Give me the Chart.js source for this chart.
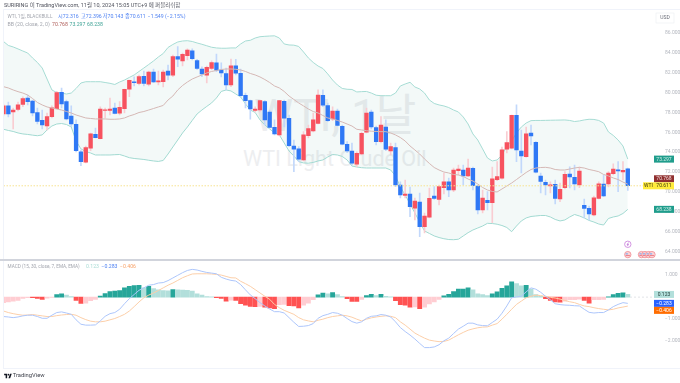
<!DOCTYPE html>
<html><head><meta charset="utf-8">
<script src="https://cdn.jsdelivr.net/npm/chart.js@4"></script>
<style>
html,body{margin:0;padding:0;background:#fff;width:680px;height:383px;overflow:hidden}
#wrap{position:relative;width:680px;height:383px;font-family:Roboto,"Noto Sans CJK KR",sans-serif}
canvas{position:absolute;left:0;top:0}
.t{position:absolute;white-space:nowrap;font-size:5.2px;line-height:7px;color:#a3a6ae}
.b{color:#4f82f2}
.wm{position:absolute;white-space:nowrap;color:#edeef0;font-family:Roboto,"Noto Sans CJK KR",sans-serif}
</style></head><body>
<div id="wrap">
<div class="wm" style="left:254px;top:88px;font-size:44px;line-height:56px">WTI, 1날</div>
<div class="wm" style="left:243px;top:147px;font-size:21.5px;line-height:24px">WTI Light Crude Oil</div>
<canvas id="c" width="680" height="383"></canvas>
<div class="t" style="left:4px;top:1.5px;color:#50535e;font-size:5.5px">SURIRING 이 TradingView.com, 11월 10, 2024 15:05 UTC+9 에 퍼블리쉬함</div>
<div class="t" style="left:7.5px;top:12.5px;font-size:4.7px">WTI, 1일, BLACKBULL</div>
<div class="t b" style="left:58px;top:12.5px">시72.316</div>
<div class="t b" style="left:81px;top:12.5px">고72.396</div>
<div class="t b" style="left:102.7px;top:12.5px">저70.143</div>
<div class="t b" style="left:125px;top:12.5px">종70.611</div>
<div class="t b" style="left:147.7px;top:12.5px">−1.549 (−2.15%)</div>
<div class="t" style="left:7.5px;top:20.5px">BB (20, close, 2, 0)</div>
<div class="t" style="left:52px;top:20.5px;color:#b0605c">70.768</div>
<div class="t" style="left:69.5px;top:20.5px;color:#3fa396">73.297</div>
<div class="t" style="left:87px;top:20.5px;color:#3fa396">68.238</div>
<div class="t" style="left:7.5px;top:262.5px;font-size:4.7px">MACD (15, 30, close, 7, EMA, EMA)</div>
<div class="t" style="left:86px;top:262.5px;color:#a9dcd5">0.123</div>
<div class="t b" style="left:101.5px;top:262.5px">−0.283</div>
<div class="t" style="left:120px;top:262.5px;color:#f7a167">−0.406</div>
<svg style="position:absolute;left:4px;top:372.5px" width="8" height="6" viewBox="0 0 36 28"><path fill="#131722" d="M14 24H7V11H0V4h14v20zM28 24h-8l7.5-20h8L28 24z"/><circle cx="20" cy="8" r="4" fill="#131722"/></svg>
<div class="t" style="left:12.7px;top:372px;color:#3f424c;font-size:5.8px">TradingView</div>
</div>
<script>
const tickIndex=[0,7,15,25,35,45,58,65,72,80,90,101,110,117,124];
const tickLabels=['3','22','6월','17','7월','15','8월','12','21','9월','16','10월','14','23','11월'];
const priceTicks=[64,66,68,70,72,74,76,78,80,82,84,86];
const macdTicks=[-2,-1,1];
const open=[77.84,78.65,78.04,78.29,78.80,79.45,79.15,77.99,77.19,76.63,
77.57,78.37,80.03,79.08,77.64,76.80,74.04,72.98,74.39,75.80,
75.35,78.19,78.19,78.44,77.91,78.37,80.33,81.09,80.93,81.64,
80.83,82.07,81.06,81.09,82.17,81.74,83.61,83.18,83.71,84.21,
83.21,82.37,81.74,82.44,82.98,82.27,81.92,80.76,82.70,81.94,
79.72,79.18,78.21,78.24,79.08,78.04,76.50,75.73,79.12,77.41,
74.62,74.32,73.21,75.65,76.13,76.90,79.72,78.68,77.34,78.14,
76.60,74.79,74.11,72.80,73.81,76.00,78.04,76.46,75.05,76.53,
74.11,74.47,70.69,69.65,69.78,68.37,68.98,66.49,67.44,69.58,
69.23,70.42,71.02,70.19,72.13,72.20,71.60,72.37,70.59,68.17,
69.15,68.91,71.22,71.37,74.29,74.39,77.71,74.11,73.54,75.93,
74.99,71.60,70.96,70.59,70.76,69.28,70.42,71.80,71.47,70.69,
68.65,68.34,67.67,69.35,70.79,70.79,71.83,72.23,72.00,72.316];
const high=[78.85,79.05,78.44,79.05,79.58,79.75,79.25,78.44,78.24,77.94,
78.65,80.11,80.46,79.25,78.65,77.24,74.22,74.62,75.93,76.43,
78.55,78.44,79.45,78.95,79.08,80.36,81.26,81.57,81.77,82.17,
82.17,82.37,82.17,82.27,82.77,83.78,84.62,83.98,84.39,84.39,
83.35,82.60,82.67,83.18,83.88,82.98,82.47,83.38,83.35,82.37,
79.95,79.25,78.55,79.25,79.18,78.24,77.24,79.22,79.25,77.74,
75.22,74.55,76.06,76.73,77.94,80.26,80.26,78.95,78.55,78.34,
76.73,75.05,74.92,74.04,76.03,78.44,78.24,76.63,77.57,77.24,
74.92,74.92,71.02,71.19,70.49,69.38,69.88,67.87,70.39,70.52,
70.69,71.90,71.39,72.40,72.70,72.70,73.31,72.50,70.69,70.19,
70.02,72.50,73.04,74.52,76.06,77.74,78.75,76.23,76.53,76.73,
75.05,71.90,71.19,71.02,71.19,70.89,72.03,72.53,72.70,72.50,
69.28,68.58,69.58,71.00,71.70,72.03,72.81,73.04,73.04,72.396];
const low=[77.64,77.54,76.33,78.14,78.58,78.75,77.64,76.83,76.33,76.23,
77.44,78.34,78.44,77.24,76.56,74.01,72.63,72.91,74.14,75.42,
75.32,77.44,77.74,77.84,77.74,77.94,79.58,80.66,80.76,80.66,
80.66,80.99,80.76,80.56,81.26,81.60,82.60,82.67,83.28,83.28,
82.34,81.60,80.96,82.27,82.10,81.57,80.26,80.59,81.77,79.58,
78.44,77.31,78.04,78.04,76.73,76.43,75.73,75.62,76.53,74.55,
72.03,73.04,73.11,75.42,76.03,76.83,78.58,77.06,77.17,76.63,
74.72,73.94,72.70,72.53,73.71,75.93,76.33,74.72,74.92,74.14,
73.71,70.52,69.38,69.38,67.50,67.17,65.48,65.86,67.37,69.23,
68.68,69.78,69.51,70.02,71.70,70.69,71.53,70.19,67.77,67.87,
68.17,66.89,71.12,71.29,73.91,74.32,73.04,71.90,73.48,74.72,
71.90,69.89,69.68,69.89,68.78,69.01,70.29,70.39,70.19,70.42,
67.37,67.17,67.57,69.28,69.51,70.49,71.70,70.02,71.19,70.143];
const close=[78.65,77.84,78.24,78.75,79.38,79.08,77.94,77.08,76.73,77.57,
78.47,79.99,78.85,77.34,76.83,74.14,73.04,74.45,75.83,75.45,
78.34,78.27,78.34,77.89,78.52,80.33,81.23,80.99,81.60,80.93,
82.07,81.06,81.19,82.07,81.74,83.61,83.35,83.85,84.28,83.41,
82.44,81.87,82.54,83.01,82.24,81.97,80.76,82.70,81.94,79.68,
79.18,78.34,78.34,79.18,77.24,76.50,75.83,79.18,77.41,74.65,
74.29,73.28,75.73,76.36,77.24,79.75,78.72,77.17,78.14,76.70,
74.79,74.11,72.88,73.88,75.90,77.94,76.53,75.05,76.73,74.29,
74.55,70.69,69.68,69.78,68.51,69.08,66.49,67.57,69.35,69.35,
70.52,71.02,70.19,72.20,72.30,71.60,72.40,70.62,68.17,69.38,
68.91,71.32,71.53,74.22,74.95,77.71,74.22,73.61,75.83,75.62,
71.97,71.06,70.69,70.72,69.35,70.26,71.77,71.50,70.79,72.10,
68.34,67.77,69.41,70.82,69.58,71.90,72.30,72.10,72.17,70.611];
const bbUpper=[85.14,84.74,84.59,84.39,84.18,83.98,83.48,83.03,82.47,81.36,
80.26,80.00,79.95,79.85,79.95,80.41,80.96,81.09,81.09,81.09,
81.09,81.01,80.93,80.81,81.06,81.26,81.52,81.77,82.12,82.47,
82.82,83.18,83.58,83.93,84.54,84.84,85.09,85.19,85.22,85.14,
84.99,84.86,84.71,84.56,84.49,84.46,84.46,84.49,84.49,84.89,
85.19,85.26,85.49,85.62,85.66,85.69,85.71,85.49,84.89,84.79,
84.77,84.64,84.08,83.48,83.03,82.67,82.42,81.87,81.26,80.76,
80.41,80.33,80.31,80.06,80.09,80.11,79.95,79.73,79.68,79.68,
79.68,79.95,80.66,80.86,81.03,80.56,80.36,79.95,79.25,78.90,
78.75,78.65,78.49,78.24,78.04,77.54,76.83,75.83,75.22,74.32,
73.41,73.11,73.21,73.71,74.62,75.12,75.93,76.53,76.93,77.17,
77.19,77.19,77.20,77.21,77.22,77.23,77.24,77.19,77.08,77.14,
77.24,77.31,77.29,77.19,76.93,76.03,75.68,75.22,74.62,73.297];
const bbBasis=[80.59,80.46,80.26,80.09,79.95,79.75,79.40,79.00,78.75,78.55,
78.44,78.34,78.24,78.09,77.94,77.74,77.59,77.44,77.39,77.34,
77.34,77.34,77.31,77.31,77.34,77.44,77.64,77.79,77.99,78.09,
78.24,78.39,78.55,78.70,79.25,79.65,80.26,80.71,81.06,81.36,
81.57,81.77,81.97,82.12,82.22,82.32,82.37,82.37,82.34,82.27,
82.12,81.92,81.77,81.57,81.31,81.01,80.66,80.46,80.11,79.65,
79.30,78.95,78.65,78.34,78.09,77.94,77.69,77.44,77.34,77.19,
77.03,76.83,76.63,76.30,76.23,76.16,76.11,76.08,76.06,76.06,
75.93,75.73,75.47,75.12,74.62,74.22,73.81,73.31,72.86,72.45,
72.20,72.00,71.90,71.75,71.70,71.55,71.29,71.09,70.79,70.44,
70.19,70.04,69.99,70.29,70.59,70.89,71.24,71.60,71.95,72.25,
72.40,72.45,72.47,72.40,72.25,72.20,72.20,72.30,72.40,72.47,
72.40,72.25,72.15,72.03,71.75,71.60,71.40,71.24,70.99,70.768];
const bbLower=[76.30,76.18,76.08,75.93,75.83,75.78,75.71,75.65,75.73,76.23,
76.63,76.83,76.88,76.78,76.53,75.12,74.32,74.06,73.91,73.71,
73.71,73.71,73.71,73.74,73.76,73.61,73.44,73.36,73.31,73.26,
73.18,73.11,73.06,73.16,73.81,74.52,75.22,75.93,76.53,77.19,
77.84,78.24,78.60,78.95,79.45,80.11,80.26,80.16,79.85,79.55,
78.85,78.24,77.99,77.24,76.73,76.33,75.93,75.73,74.92,74.11,
73.61,73.04,72.91,72.88,72.96,73.11,73.21,73.51,73.76,73.71,
73.56,73.21,72.60,72.50,72.43,72.40,72.40,72.40,72.40,72.40,
72.20,71.60,70.49,69.68,68.78,67.87,66.96,66.06,65.81,65.56,
65.40,65.28,65.20,65.18,65.23,65.56,65.89,66.16,66.36,66.56,
66.83,66.81,66.74,66.61,66.41,65.99,66.56,67.07,67.37,67.52,
67.57,67.62,67.62,67.47,67.22,67.07,67.17,67.47,67.72,67.57,
67.37,67.12,66.96,66.76,66.66,67.32,67.47,67.57,67.82,68.238];
const macdHist=[-0.25,-0.22,-0.18,-0.15,-0.06,-0.02,-0.03,-0.06,-0.10,-0.05,
-0.01,0.12,0.15,0.09,0.03,-0.15,-0.28,-0.27,-0.16,-0.10,
0.05,0.16,0.25,0.27,0.30,0.42,0.49,0.52,0.53,0.42,
0.49,0.39,0.33,0.30,0.29,0.34,0.33,0.32,0.31,0.27,
0.15,0.09,0.03,0.01,-0.03,-0.06,-0.18,-0.14,-0.15,-0.30,
-0.37,-0.42,-0.43,-0.42,-0.46,-0.49,-0.52,-0.34,-0.33,-0.39,
-0.40,-0.49,-0.37,-0.27,-0.12,0.10,0.18,0.15,0.21,0.12,
0.02,-0.07,-0.19,-0.20,-0.10,0.07,0.13,0.07,0.13,0.04,
0.01,-0.16,-0.34,-0.37,-0.45,-0.44,-0.52,-0.46,-0.31,-0.22,
-0.10,0.06,0.13,0.25,0.36,0.37,0.42,0.33,0.15,0.12,
0.07,0.15,0.24,0.40,0.51,0.69,0.61,0.51,0.54,0.37,
0.12,0.04,-0.07,-0.15,-0.22,-0.23,-0.18,-0.12,-0.11,-0.09,
-0.15,-0.27,-0.12,-0.11,-0.10,0.01,0.12,0.17,0.20,0.123];
const macdLine=[-0.88,-0.90,-0.93,-0.90,-0.85,-0.82,-0.82,-0.88,-0.96,-0.96,
-0.82,-0.70,-0.67,-0.72,-0.78,-1.03,-1.23,-1.27,-1.27,-1.26,
-1.08,-0.87,-0.75,-0.70,-0.55,-0.30,-0.07,0.12,0.31,0.42,
0.54,0.57,0.64,0.66,0.75,0.87,0.99,1.11,1.21,1.26,
1.23,1.17,1.12,1.09,1.06,0.90,0.82,0.76,0.73,0.57,
0.33,0.10,-0.07,-0.25,-0.40,-0.54,-0.66,-0.66,-0.72,-0.93,
-1.14,-1.33,-1.32,-1.29,-1.20,-0.96,-0.84,-0.78,-0.70,-0.73,
-0.82,-0.97,-1.11,-1.18,-1.12,-0.96,-0.87,-0.85,-0.79,-0.82,
-0.90,-1.12,-1.38,-1.56,-1.72,-1.90,-2.10,-2.29,-2.29,-2.26,
-2.16,-1.98,-1.86,-1.65,-1.45,-1.32,-1.18,-1.18,-1.26,-1.29,
-1.30,-1.15,-1.00,-0.73,-0.40,-0.03,0.01,0.04,0.24,0.42,
0.36,0.22,0.04,-0.12,-0.30,-0.34,-0.36,-0.37,-0.39,-0.40,
-0.55,-0.69,-0.72,-0.70,-0.70,-0.58,-0.43,-0.33,-0.25,-0.283];
const macdSignal=[-0.63,-0.70,-0.75,-0.79,-0.82,-0.81,-0.79,-0.82,-0.85,-0.88,
-0.88,-0.84,-0.81,-0.79,-0.78,-0.82,-0.93,-1.02,-1.09,-1.12,
-1.12,-1.09,-1.03,-0.97,-0.88,-0.78,-0.63,-0.43,-0.22,-0.03,
0.09,0.19,0.30,0.42,0.54,0.64,0.76,0.88,0.97,1.05,
1.06,1.06,1.06,1.05,1.03,1.00,0.94,0.88,0.87,0.72,
0.61,0.49,0.34,0.19,0.04,-0.10,-0.33,-0.48,-0.60,-0.69,
-0.78,-0.93,-1.03,-1.08,-1.12,-1.05,-1.00,-0.93,-0.88,-0.85,
-0.82,-0.85,-0.91,-1.00,-1.08,-1.00,-0.94,-0.90,-0.87,-0.85,
-0.87,-0.93,-1.12,-1.27,-1.45,-1.63,-1.75,-1.86,-1.95,-1.99,
-2.02,-2.01,-1.95,-1.83,-1.71,-1.60,-1.50,-1.44,-1.39,-1.36,
-1.35,-1.27,-1.20,-1.00,-0.78,-0.55,-0.33,-0.18,-0.03,0.04,
0.09,0.07,0.04,-0.01,-0.04,-0.09,-0.15,-0.21,-0.25,-0.33,
-0.40,-0.43,-0.48,-0.52,-0.55,-0.58,-0.55,-0.49,-0.45,-0.406];

const RED='#f7525f',BLUE='#2f78f5',WRED='#f9cdd2',WBLUE='#c2d8fb';
const futureSlots=5;
const categories=Array.from({length:open.length+futureSlots},(_,i)=>{const k=tickIndex.indexOf(i);return k<0?'':tickLabels[k];});
const up=open.map((o,i)=>close[i]>=o);
const histColor=macdHist.map((v,i)=>{const p=i?macdHist[i-1]:v;return v>=0?(v>=p?'#26a69a':'#b2dfdb'):(v<p?'#ff5252':'#ffcdd2');});
const lastPrice=close[close.length-1];
const fix=w=>s=>{s.paddingLeft=s.paddingRight=s.paddingTop=s.paddingBottom=0;if(w)s.width=w;};

function badge(ctx,y,text,bg,fg){
  ctx.fillStyle=bg;ctx.fillRect(654,y-3.5,20,7);
  ctx.fillStyle=fg;ctx.textAlign='center';ctx.textBaseline='middle';
  ctx.font='5px Roboto';ctx.fillText(text,664,y+0.2);
}
const overlay={id:'overlay',
 afterDatasetsDraw(ch){
  const c=ch.ctx,a=ch.chartArea,y=ch.scales.y,m=ch.scales.y2;
  c.save();
  c.setLineDash([1.5,1.5]);c.lineWidth=1;c.strokeStyle='#f7e391';
  const py=y.getPixelForValue(lastPrice);
  c.beginPath();c.moveTo(a.left,py);c.lineTo(a.right,py);c.stroke();
  c.strokeStyle='#e2e4e8';c.setLineDash([2,2]);
  const zy=m.getPixelForValue(0);
  c.beginPath();c.moveTo(630,zy);c.lineTo(a.right,zy);c.stroke();
  c.restore();
 },
 afterDraw(ch){
  const c=ch.ctx,a=ch.chartArea,y=ch.scales.y,m=ch.scales.y2,x=ch.scales.x;
  c.save();
  c.fillStyle='#f0f3fa';
  c.fillRect(3,10,1,358);c.fillRect(3,9,677,1);c.fillRect(3,368,677,1);
  c.fillStyle='#d1d4dc';c.fillRect(0,259,680,2);
  // currency box
  c.fillStyle='#fff';c.strokeStyle='#eceef2';c.lineWidth=.6;c.fillRect(656,13,18,10);c.strokeRect(656,13,18,10);
  c.fillStyle='#6a6d78';c.font='5px Roboto';c.textAlign='center';c.textBaseline='middle';c.fillText('USD',665,18);
  // price badges (nudged apart where they would collide, as on the reference axis)
  const py=y.getPixelForValue(lastPrice);
  badge(c,y.getPixelForValue(bbUpper[129]),bbUpper[129].toFixed(3),'#1f9d8c','#d4efe9');
  badge(c,py-7,bbBasis[129].toFixed(3),'#8f2f2f','#f3dede');
  badge(c,py,lastPrice.toFixed(3),'#ffeb3b','#3a3510');
  c.fillStyle='#ffeb3b';c.fillRect(643,py-3.5,11,7);
  c.fillStyle='#3a3510';c.fillText('WTI',648.5,py+.2);
  badge(c,y.getPixelForValue(bbLower[129]),bbLower[129].toFixed(3),'#1f9d8c','#d4efe9');
  const my=m.getPixelForValue(macdLine[129]);
  badge(c,m.getPixelForValue(macdHist[129]),macdHist[129].toFixed(3),'#b2dfdb','#24403c');
  badge(c,my,macdLine[129].toFixed(3).replace('-','−'),'#2962ff','#fff');
  badge(c,my+7,macdSignal[129].toFixed(3).replace('-','−'),'#ff6d00','#fff');
  // event markers
  const ex=x.getPixelForValue(129);
  c.beginPath();c.arc(ex,244.3,3.2,0,7);c.fillStyle='#fff';c.fill();c.strokeStyle='#cf8adf';c.lineWidth=.9;c.stroke();
  c.strokeStyle='#b45fd0';c.lineWidth=.7;c.beginPath();c.moveTo(ex+.7,242.6);c.lineTo(ex-.7,244.6);c.lineTo(ex+.7,244.4);c.lineTo(ex-.5,246.2);c.stroke();
  [ex,641.5,645,648.7,652].forEach(cx=>{
    c.beginPath();c.arc(cx,254.6,3.2,0,7);c.fillStyle='#f9d3d6';c.fill();c.strokeStyle='#f28a92';c.lineWidth=.8;c.stroke();
    c.fillStyle='#8fb0ec';c.fillRect(cx-2.1,253.2,2.2,1.3);
    c.fillStyle='#ee6f79';c.fillRect(cx-2.1,255.2,4.2,.8);
  });
  c.restore();
 }
};

new Chart(document.getElementById('c'),{
 type:'bar',
 plugins:[overlay],
 data:{labels:categories,datasets:[
  {type:'line',label:'BB upper',data:bbUpper,yAxisID:'y',borderColor:'#a6dcd4',borderWidth:1,pointRadius:0,fill:'+1',backgroundColor:'rgba(30,140,130,0.055)',order:3},
  {type:'line',label:'BB lower',data:bbLower,yAxisID:'y',borderColor:'#a6dcd4',borderWidth:1,pointRadius:0,fill:false,order:3},
  {type:'line',label:'BB basis',data:bbBasis,yAxisID:'y',borderColor:'#d5b8b5',borderWidth:1,pointRadius:0,fill:false,order:0},
  {label:'wick',data:high.map((h,i)=>[low[i],h]),yAxisID:'y',backgroundColor:up.map(u=>u?WRED:WBLUE),barThickness:1,grouped:false,order:2,borderSkipped:false},
  {label:'body',data:open.map((o,i)=>[o,close[i]]),yAxisID:'y',backgroundColor:up.map(u=>u?RED:BLUE),barThickness:3.7,grouped:false,order:1,borderSkipped:false},
  {type:'line',label:'MACD',data:macdLine,yAxisID:'y2',borderColor:'#adc6fb',borderWidth:1,pointRadius:0,fill:false,order:4},
  {type:'line',label:'Signal',data:macdSignal,yAxisID:'y2',borderColor:'#fccfa9',borderWidth:1,pointRadius:0,fill:false,order:4},
  {label:'Histogram',data:macdHist,yAxisID:'y2',backgroundColor:histColor,barThickness:4.2,grouped:false,order:5}
 ]},
 options:{responsive:false,animation:false,
  layout:{padding:{left:3.5,top:10,bottom:15,right:0}},
  plugins:{legend:{display:false},tooltip:{enabled:false}},
  scales:{
   x:{offset:false,grid:{display:false},border:{display:false},
      afterBuildTicks:s=>{s.ticks=s.ticks.filter(t=>categories[t.value]!=='');},
      ticks:{autoSkip:false,maxRotation:0,minRotation:0,color:'#a8abb3',font:{size:5,family:'Roboto,"Noto Sans CJK KR"'},padding:6},
      afterFit:s=>{fix()(s);s.height=14;}},
   y:{position:'right',stack:'panes',stackWeight:249,min:63.24,max:88.31,grid:{display:false},border:{display:false},
      afterBuildTicks:s=>{s.ticks=priceTicks.map(v=>({value:v}));},
      ticks:{color:'#b4b7bf',font:{size:5,family:'Roboto'},padding:5,callback:v=>v.toFixed(3)},
      afterFit:fix(28)},
   y2:{position:'right',stack:'panes',stackWeight:95,min:-2.58,max:1.73,grid:{display:false},border:{display:false},
      afterBuildTicks:s=>{s.ticks=macdTicks.map(v=>({value:v}));},
      ticks:{color:'#b4b7bf',font:{size:5,family:'Roboto'},padding:5,callback:v=>v.toFixed(3).replace('-','−')},
      afterFit:fix(28)}
  }
 }
});
</script>
</body></html>
